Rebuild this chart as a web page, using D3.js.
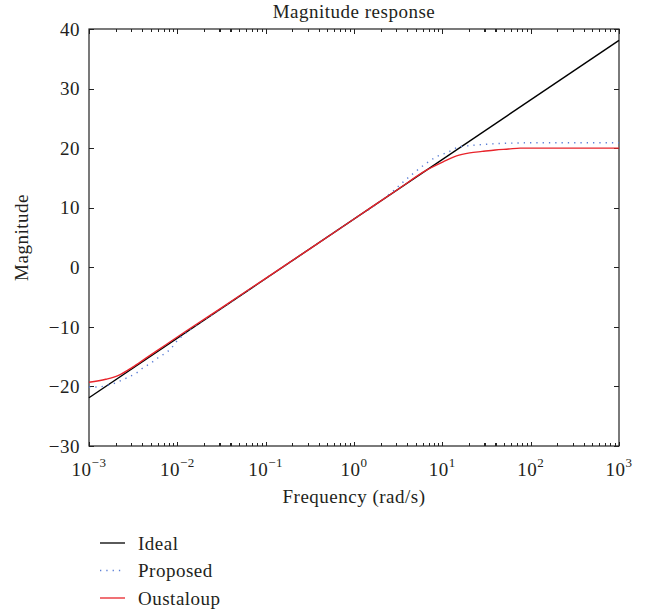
<!DOCTYPE html>
<html>
<head>
<meta charset="utf-8">
<script src="https://cdn.jsdelivr.net/npm/d3@7/dist/d3.min.js"></script>
<style>
  html, body { margin: 0; padding: 0; background: #fff; }
  svg { display: block; font-family: "Liberation Serif", "DejaVu Serif", serif; }
  .axis path, .axis line { stroke: #222; stroke-width: 1.1; shape-rendering: crispEdges; }
  .lbl { fill: #231f20; letter-spacing: 0.5px; }
</style>
</head>
<body>
<svg id="chart" width="650" height="613"></svg>
<script>
// Frequencies (rad/s) and magnitudes (dB) of each response
const idealFreq = [0.001, 1000];
const idealMag  = [-21.9, 38.1];

const proposedFreq = [0.001, 0.0012, 0.00155, 0.002, 0.0024, 0.00282, 0.00339, 0.00417, 0.005,
  0.00589, 0.00708, 0.00851, 0.01, 0.0126, 0.0316, 0.1, 0.316, 1, 2, 2.14, 2.92, 3.72, 4.82,
  6.37, 8.63, 11.7, 15.8, 19.7, 28.2, 39.8, 63.1, 100, 1000];
const proposedMag = [-20.1, -20.1, -19.9, -19.4, -18.9, -18.4, -17.8, -16.8, -16.1,
  -15.3, -14.55, -13.6, -12.3, -11.0, -6.9, -1.9, 3.1, 8.1, 11.1, 11.45, 13.1, 14.5, 15.9,
  17.3, 18.57, 19.35, 20.25, 20.4, 20.6, 20.75, 20.85, 20.9, 20.9];

const oustaloupFreq = [0.001, 0.00155, 0.00219, 0.00309, 0.00437, 0.00741, 0.0126, 0.0316,
  0.1, 0.316, 1, 3.16, 6.61, 10.2, 14.5, 20.4, 28.2, 39.8, 56.2, 75.9, 158, 1000];
const oustaloupMag = [-19.3, -18.8, -18.1, -16.8, -15.3, -13.0, -10.7, -6.8,
  -1.85, 3.1, 8.1, 13.1, 16.3, 17.7, 18.7, 19.2, 19.45, 19.7, 19.85, 20.0, 20.0, 20.0];

const xMajorExp = [-3, -2, -1, 0, 1, 2, 3];
const yTicks = [-30, -20, -10, 0, 10, 20, 30, 40];

const seriesNames = ["Ideal", "Proposed", "Oustaloup"];
const seriesColors = ["#000000", "#5b7fd6", "#e8242b"];
const seriesDash = [null, "1.3,5", null];

const plotLeft = 89, plotRight = 619, plotTop = 29, plotBottom = 446;
const fontSize = 19;
const svg = d3.select("#chart");

const x = d3.scaleLog().domain([1e-3, 1e3]).range([plotLeft, plotRight]);
const y = d3.scaleLinear().domain([-30, 40]).range([plotBottom, plotTop]);

const xMajor = xMajorExp.map(e => Math.pow(10, e));
const xMinor = [];
for (let e = -3; e < 3; e++) for (let k = 2; k <= 9; k++) xMinor.push(k * Math.pow(10, e));

// Inward ticks on all four sides
function tickAxis(axis, transform, vals, size) {
  const g = svg.append("g").attr("class", "axis").attr("transform", transform)
    .call(axis.tickValues(vals).tickSize(size).tickSizeOuter(0).tickFormat(""));
  g.select(".domain").remove();
  return g;
}
tickAxis(d3.axisBottom(x), `translate(0,${plotBottom})`, xMajor, -4.5);
tickAxis(d3.axisBottom(x), `translate(0,${plotBottom})`, xMinor, -3);
tickAxis(d3.axisTop(x), `translate(0,${plotTop})`, xMajor, -4.5);
tickAxis(d3.axisTop(x), `translate(0,${plotTop})`, xMinor, -3);
tickAxis(d3.axisLeft(y), `translate(${plotLeft},0)`, yTicks, -5);
tickAxis(d3.axisRight(y), `translate(${plotRight},0)`, yTicks, -5);

svg.append("rect").attr("x", plotLeft).attr("y", plotTop)
  .attr("width", plotRight - plotLeft).attr("height", plotBottom - plotTop)
  .attr("fill", "none").attr("stroke", "#222").attr("stroke-width", 1.2);

// Y tick labels
svg.append("g").selectAll("text").data(yTicks).join("text")
  .attr("class", "lbl").attr("x", plotLeft - 9).attr("y", d => y(d)).attr("dy", "0.35em")
  .attr("text-anchor", "end").attr("font-size", fontSize)
  .text(d => d < 0 ? "\u2212" + Math.abs(d) : d);

// X tick labels as powers of ten
const xl = svg.append("g").selectAll("text").data(xMajorExp).join("text")
  .attr("class", "lbl").attr("x", e => x(Math.pow(10, e)))
  .attr("y", plotBottom + 30).attr("font-size", fontSize)
  .attr("text-anchor", "middle");
xl.each(function(e) {
  const t = d3.select(this);
  t.append("tspan").text("10");
  t.append("tspan").attr("font-size", 13).attr("dy", -9)
    .text(e < 0 ? "\u2212" + Math.abs(e) : e);
});

// Titles
svg.append("text").attr("class", "lbl").attr("x", (plotLeft + plotRight) / 2).attr("y", 18)
  .attr("text-anchor", "middle").attr("font-size", fontSize).text("Magnitude response");
svg.append("text").attr("class", "lbl").attr("x", (plotLeft + plotRight) / 2).attr("y", 503)
  .attr("text-anchor", "middle").attr("font-size", fontSize).text("Frequency (rad/s)");
svg.append("text").attr("class", "lbl")
  .attr("transform", `translate(28,${(plotTop + plotBottom) / 2}) rotate(-90)`)
  .attr("text-anchor", "middle").attr("font-size", fontSize).text("Magnitude");

// Response curves
const line = d3.line().x(d => x(d[0])).y(d => y(d[1])).curve(d3.curveMonotoneX);
const series = [
  d3.zip(idealFreq, idealMag),
  d3.zip(proposedFreq, proposedMag),
  d3.zip(oustaloupFreq, oustaloupMag)
];
series.forEach((pts, i) => {
  svg.append("path").datum(pts).attr("d", line)
    .attr("fill", "none").attr("stroke", seriesColors[i])
    .attr("stroke-width", 1.4)
    .attr("stroke-dasharray", seriesDash[i])
    .attr("stroke-linejoin", "round");
});

// Legend
const lg = svg.append("g");
seriesNames.forEach((name, i) => {
  const ly = 543 + i * 27.5;
  lg.append("line").attr("x1", 100).attr("x2", 125).attr("y1", ly).attr("y2", ly)
    .attr("stroke", seriesColors[i]).attr("stroke-width", 1.3)
    .attr("stroke-dasharray", seriesDash[i]);
  lg.append("text").attr("class", "lbl").attr("x", 138).attr("y", ly).attr("dy", "0.35em")
    .attr("font-size", fontSize).text(name);
});
</script>
</body>
</html>
